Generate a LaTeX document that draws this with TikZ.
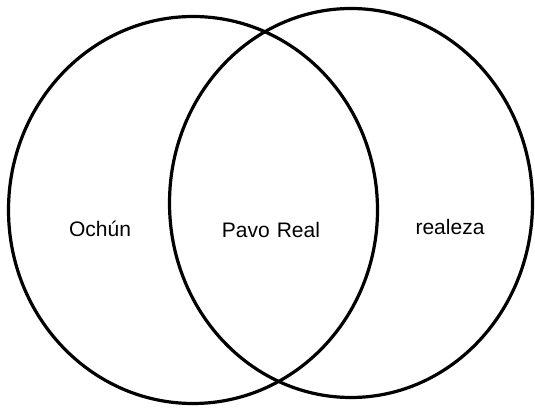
\documentclass[tikz,border=0pt]{standalone}
\usepackage{fontspec}
\setmainfont{Liberation Sans}
\usetikzlibrary{shapes.geometric}
\begin{document}
\begin{tikzpicture}[x=1pt,y=1pt,
  setcircle/.style={draw=black, line width=3.2pt, ellipse, inner sep=0pt, outer sep=0pt},
  lbl/.style={font=\fontsize{21}{25}\selectfont, inner sep=0pt}]
\useasboundingbox (0,0) rectangle (535,409);
\fill[white] (0,0) rectangle (535,409);
\node[setcircle, minimum width=369pt, minimum height=387pt] (left) at (193,199) {};
\node[setcircle, minimum width=363pt, minimum height=389pt] (right) at (351,206) {};
\node[lbl] (ochun) at (100,180) {Ochún};
\node[lbl] (pavo) at (271,179) {Pavo\,\,Real};
\node[lbl] (realeza) at (450,182) {realeza};
\end{tikzpicture}
\end{document}
